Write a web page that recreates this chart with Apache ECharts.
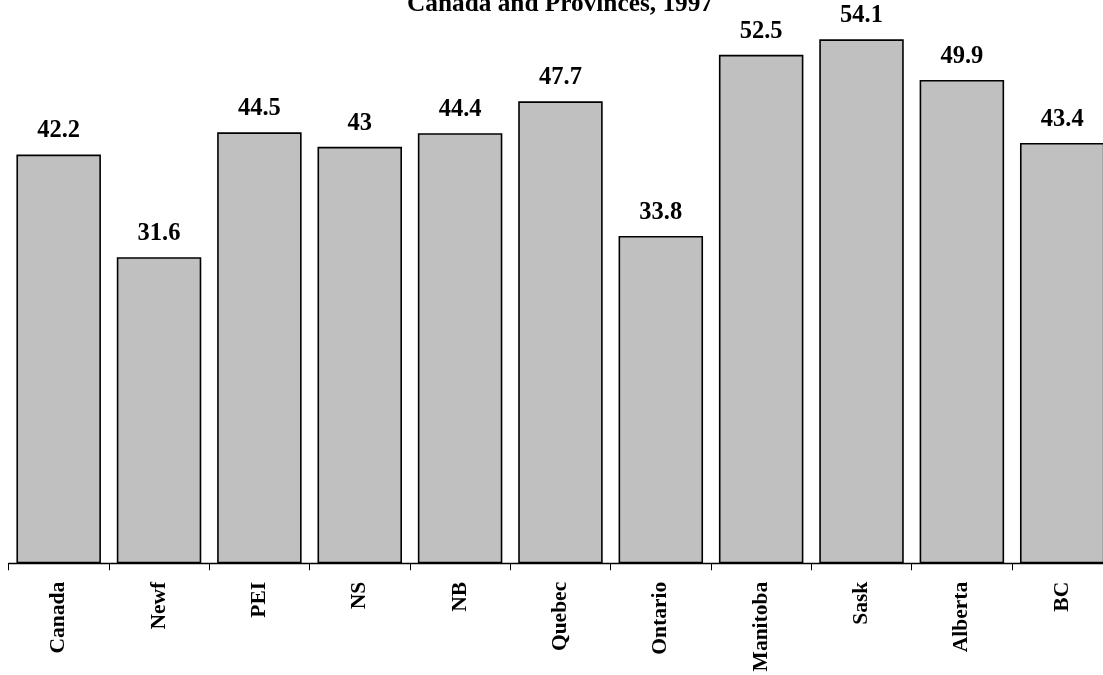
<!DOCTYPE html>
<html><head><meta charset="utf-8">
<script src="https://cdn.jsdelivr.net/npm/echarts@6/dist/echarts.min.js"></script>
<style>html,body{margin:0;padding:0;background:#fff}#c{width:1103px;height:675px}</style>
</head><body><div id="c"></div>
<script>
const categories = ["Canada","Newf","PEI","NS","NB","Quebec","Ontario","Manitoba","Sask","Alberta","BC"];
const values = [42.2,31.6,44.5,43,44.4,47.7,33.8,52.5,54.1,49.9,43.4];
const titleText = "Canada and Provinces, 1997";
const font = "'Liberation Serif','Times New Roman',serif";
const chart = echarts.init(document.getElementById('c'));
chart.setOption({
  animation:false,
  backgroundColor:'#fff',
  title:{text:titleText,left:555,top:-13,textAlign:'center',textStyle:{fontFamily:font,fontWeight:'bold',fontSize:25.3,color:'#000'}},
  grid:{left:8.5,width:1103.9,top:39.3,bottom:111.7,containLabel:false,outerBoundsMode:'none'},
  xAxis:{type:'category',data:categories,
    axisLine:{lineStyle:{color:'#000',width:1.3}},
    axisTick:{show:true,length:7,lineStyle:{color:'#000',width:1}},
    axisLabel:{rotate:90,margin:18.5,fontFamily:font,fontWeight:'bold',fontSize:21.5,color:'#000',interval:0}},
  yAxis:{type:'value',min:0,max:54.1,show:false,splitLine:{show:false}},
  series:[{type:'bar',data:values,barWidth:84.5,
    itemStyle:{color:'#c0c0c0',borderColor:'#000',borderWidth:1.6},
    label:{show:true,position:'top',distance:11,fontFamily:font,fontWeight:'bold',fontSize:24.5,color:'#000'}}]
});
</script></body></html>
